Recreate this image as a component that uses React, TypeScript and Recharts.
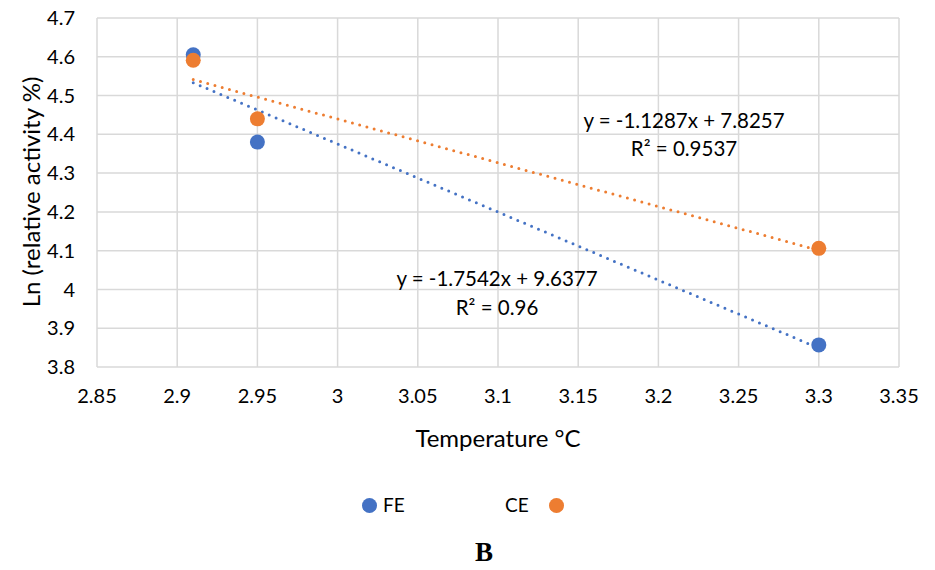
import React from 'react';
import { ScatterChart, Scatter, XAxis, YAxis, CartesianGrid, ReferenceLine } from 'recharts';

const xTicks = [2.85, 2.9, 2.95, 3, 3.05, 3.1, 3.15, 3.2, 3.25, 3.3, 3.35];
const yTicks = [3.8, 3.9, 4, 4.1, 4.2, 4.3, 4.4, 4.5, 4.6, 4.7];
const temps = [2.91, 2.95, 3.3];
const feValues = [4.605, 4.38, 3.857];
const ceValues = [4.591, 4.44, 4.106];
const feTrend = [-1.7542, 9.6377];
const ceTrend = [-1.1287, 7.8257];
const trendRange = [2.91, 3.3];

const feData = temps.map((x, i) => ({ x, y: feValues[i] }));
const ceData = temps.map((x, i) => ({ x, y: ceValues[i] }));
const seg = (t: number[]) => trendRange.map((x) => ({ x, y: t[0] * x + t[1] }));

const BLUE = '#4472C4';
const ORANGE = '#ED7D31';
const FONT = 'Lato, "Open Sans", sans-serif';
const GRID = '#d9d9d9';

export default function App() {
  return (
    <div style={{ position: 'absolute', left: 0, top: 0, width: 935, height: 570, background: '#fff', fontFamily: FONT }}>
      <ScatterChart width={935} height={570} margin={{ top: 18, right: 36, left: 37, bottom: 143 }}>
        <CartesianGrid stroke={GRID} strokeWidth={1.5} horizontalValues={yTicks} verticalValues={xTicks} />
        <XAxis type="number" dataKey="x" domain={[2.85, 3.35]} ticks={xTicks} axisLine={false} tickLine={false}
          tickSize={0} tickMargin={22} height={60} tick={{ fill: '#000', fontSize: 20, fontFamily: FONT }}
          allowDataOverflow />
        <YAxis type="number" dataKey="y" domain={[3.8, 4.7]} ticks={yTicks} axisLine={false} tickLine={false}
          tickSize={0} tickMargin={22} width={60} tick={{ fill: '#000', fontSize: 20, fontFamily: FONT }}
          allowDataOverflow />
        <ReferenceLine segment={seg(feTrend)} stroke={BLUE} strokeWidth={3} strokeDasharray="0 7.5" strokeLinecap="round" ifOverflow="visible" />
        <ReferenceLine segment={seg(ceTrend)} stroke={ORANGE} strokeWidth={3} strokeDasharray="0 7.5" strokeLinecap="round" ifOverflow="visible" />
        <Scatter name="FE" data={feData} fill={BLUE} isAnimationActive={false}
          shape={(p: any) => <circle cx={p.cx} cy={p.cy} r={7.5} fill={BLUE} />} />
        <Scatter name="CE" data={ceData} fill={ORANGE} isAnimationActive={false}
          shape={(p: any) => <circle cx={p.cx} cy={p.cy} r={7.5} fill={ORANGE} />} />
        <text x={498} y={437} textAnchor="middle" dominantBaseline="central" fontSize={24} fontFamily={FONT} fill="#000">Temperature °C</text>
        <text x={30} y={192} transform="rotate(-90 30 192)" textAnchor="middle" dominantBaseline="central" fontSize={24} fontFamily={FONT} fill="#000">Ln (relative activity %)</text>
        <text x={684} y={120} textAnchor="middle" dominantBaseline="central" fontSize={20.5} fontFamily={FONT} fill="#000">y = -1.1287x + 7.8257</text>
        <text x={684} y={148} textAnchor="middle" dominantBaseline="central" fontSize={20.5} fontFamily={FONT} fill="#000">R² = 0.9537</text>
        <text x={497} y={278} textAnchor="middle" dominantBaseline="central" fontSize={20.5} fontFamily={FONT} fill="#000">y = -1.7542x + 9.6377</text>
        <text x={497} y={307} textAnchor="middle" dominantBaseline="central" fontSize={20.5} fontFamily={FONT} fill="#000">R² = 0.96</text>
      </ScatterChart>
      <div style={{ position: 'absolute', left: 362, top: 493, fontSize: 19, color: '#000', display: 'flex', alignItems: 'center', lineHeight: '24px' }}>
        <span style={{ width: 15, height: 15, borderRadius: '50%', background: BLUE, display: 'inline-block' }} />
        <span style={{ marginLeft: 6 }}>FE</span>
      </div>
      <div style={{ position: 'absolute', left: 505, top: 493, fontSize: 19, color: '#000', display: 'flex', alignItems: 'center', lineHeight: '24px' }}>
        <span>CE</span>
        <span style={{ width: 15, height: 15, borderRadius: '50%', background: ORANGE, display: 'inline-block', marginLeft: 20 }} />
      </div>
      <div style={{ position: 'absolute', left: 0, width: 968, top: 537, textAlign: 'center', fontFamily: '"Liberation Serif", "DejaVu Serif", serif', fontWeight: 'bold', fontSize: 27, color: '#000' }}>
        B
      </div>
    </div>
  );
}
